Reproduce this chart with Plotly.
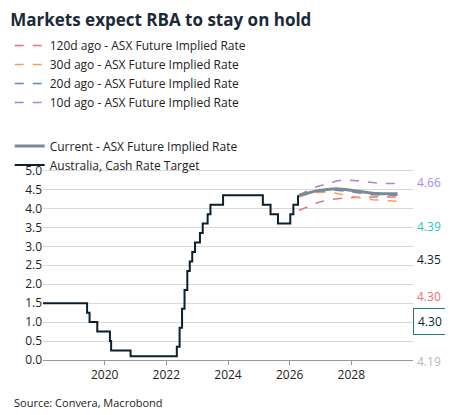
import plotly.graph_objects as go

# RBA cash rate target (step series)
cash_dates = [2018.0, 2019.43, 2019.51, 2019.76, 2020.17, 2020.21, 2020.84, 2022.34, 2022.43,
              2022.51, 2022.59, 2022.68, 2022.76, 2022.84, 2022.93, 2023.09, 2023.18, 2023.34,
              2023.43, 2023.84, 2025.13, 2025.38, 2025.62, 2026.02, 2026.12, 2026.27]
cash_rate = [1.5, 1.25, 1.0, 0.75, 0.5, 0.25, 0.1, 0.35, 0.85,
             1.35, 1.85, 2.35, 2.6, 2.85, 3.1, 3.35, 3.6, 3.85,
             4.1, 4.35, 4.1, 3.85, 3.6, 3.85, 4.1, 4.35]

fc_dates = [2026.3, 2026.6, 2026.9, 2027.2, 2027.5, 2027.8, 2028.1, 2028.4, 2028.7, 2029.0, 2029.5]
current = [4.35, 4.42, 4.47, 4.5, 4.52, 4.5, 4.46, 4.42, 4.40, 4.39, 4.39]
d10 = [4.35, 4.48, 4.58, 4.66, 4.72, 4.76, 4.74, 4.70, 4.68, 4.66, 4.66]
d20 = [4.35, 4.40, 4.45, 4.47, 4.48, 4.46, 4.42, 4.39, 4.36, 4.35, 4.35]
d30 = [4.30, 4.38, 4.42, 4.43, 4.40, 4.35, 4.30, 4.26, 4.23, 4.21, 4.19]
d120 = [3.95, 4.05, 4.15, 4.22, 4.26, 4.28, 4.29, 4.30, 4.30, 4.30, 4.30]

end_labels = ['4.66', '4.39', '4.35', '4.30', '4.30', '4.19']
end_colors = ['#a78be8', '#2cc5b5', '#0b1f2e', '#f06a6a', '#0b1f2e', '#b8b8b8']

fig = go.Figure()
fig.add_trace(go.Scatter(x=fc_dates, y=d120, name='120d ago - ASX Future Implied Rate', mode='lines',
                         line=dict(color='#e8707a', dash='dash', width=1.5), legend='legend'))
fig.add_trace(go.Scatter(x=fc_dates, y=d30, name='30d ago - ASX Future Implied Rate', mode='lines',
                         line=dict(color='#f5a05a', dash='dash', width=1.5), legend='legend'))
fig.add_trace(go.Scatter(x=fc_dates, y=d20, name='20d ago - ASX Future Implied Rate', mode='lines',
                         line=dict(color='#6a86b8', dash='dash', width=1.5), legend='legend'))
fig.add_trace(go.Scatter(x=fc_dates, y=d10, name='10d ago - ASX Future Implied Rate', mode='lines',
                         line=dict(color='#b07fd0', dash='dash', width=1.5), legend='legend'))
fig.add_trace(go.Scatter(x=fc_dates, y=current, name='Current - ASX Future Implied Rate', mode='lines',
                         line=dict(color='#7a8a9a', width=3), legend='legend2'))
fig.add_trace(go.Scatter(x=cash_dates, y=cash_rate, name='Australia, Cash Rate Target', mode='lines',
                         line=dict(color='#0b1f2e', width=2, shape='hv'), legend='legend2'))

label_y = [0.944, 0.72, 0.51, 0.28, 0.127, -0.05]
label_x = [1.01, 1.01, 1.01, 1.01, 1.0, 1.01]
for i, (t, c) in enumerate(zip(end_labels, end_colors)):
    fig.add_annotation(xref='paper', yref='paper', x=label_x[i], y=label_y[i], xanchor='left',
                       text=t, showarrow=False, font=dict(color=c, size=12),
                       bordercolor='#2a7a7a' if i == 4 else None, borderwidth=1 if i == 4 else 0,
                       borderpad=4 if i == 4 else 0)

fig.update_layout(
    width=453, height=415, plot_bgcolor='white', paper_bgcolor='white',
    margin=dict(l=35, r=48, t=155, b=63, autoexpand=False),
    font=dict(family='Open Sans, DejaVu Sans', size=12, color='#222'),
    title=dict(text='<b>Markets expect RBA to stay on hold</b>', x=0.005, y=0.985, yanchor='top',
               font=dict(size=17, color='#1a2a3a')),
    legend=dict(x=-0.09, y=1.67, xanchor='left', yanchor='top', orientation='v',
                font=dict(size=12), tracegroupgap=0, itemwidth=30, bgcolor='rgba(0,0,0,0)'),
    legend2=dict(x=-0.09, y=1.16, xanchor='left', yanchor='top', orientation='h',
                 font=dict(size=12), itemwidth=30, bgcolor='rgba(0,0,0,0)'),
)
fig.add_annotation(xref='paper', yref='paper', x=-0.085, y=-0.17, xanchor='left', yanchor='top',
                   text='Source: Convera, Macrobond', showarrow=False, font=dict(size=11))
fig.update_xaxes(range=[2018, 2030], tickvals=[2020, 2022, 2024, 2026, 2028], showgrid=False,
                 showline=True, linecolor='#999', ticks='outside', tickcolor='#999', ticklen=4)
fig.update_yaxes(range=[0, 5.2], dtick=0.5, tickformat='.1f', showgrid=True, gridcolor='#d8d8d8',
                 zeroline=False)
fig.write_html('out.html')
